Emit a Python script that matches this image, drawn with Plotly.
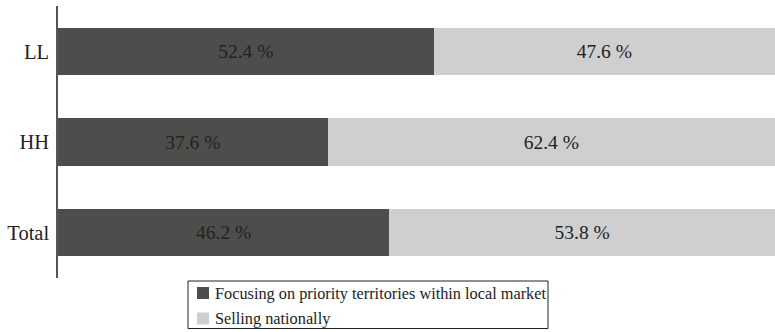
import plotly.graph_objects as go

# Share of respondents by group (percent)
categories = ["Total", "HH", "LL"]
focusing_local = [46.2, 37.6, 52.4]
selling_national = [53.8, 62.4, 47.6]

series_names = [
    "Focusing on priority territories within local market",
    "Selling nationally",
]

FONT = "Liberation Serif, Times New Roman, serif"
DARK = "#4d4d4b"
LIGHT = "#cfcfcf"
TEXT = "#222222"

W, H = 775, 332
ML, MR, MT, MB = 58, 0, 6, 54
PW, PH = W - ML - MR, H - MT - MB


def labels(vals):
    return [f"{v:.1f} %" for v in vals]


def px_x(x):
    return (x - ML) / PW


def px_y(y):
    return (H - MB - y) / PH


fig = go.Figure()
for vals, name, color in [(focusing_local, series_names[0], DARK),
                          (selling_national, series_names[1], LIGHT)]:
    fig.add_trace(go.Bar(
        y=categories, x=vals, orientation="h", name=name,
        marker=dict(color=color, line=dict(width=0)),
        text=labels(vals), textposition="inside",
        insidetextanchor="middle",
        textfont=dict(color=TEXT, size=19.5, family=FONT),
        showlegend=False,
    ))

# Boxed legend below the bars
shapes = [dict(type="rect", xref="paper", yref="paper",
               x0=px_x(188), x1=px_x(548), y0=px_y(281), y1=px_y(328.5),
               line=dict(color="#222222", width=1), fillcolor="white")]
annotations = []
for i, (name, color) in enumerate(zip(series_names, [DARK, LIGHT])):
    cy = 293 + 25.5 * i
    shapes.append(dict(type="rect", xref="paper", yref="paper",
                       x0=px_x(197), x1=px_x(209),
                       y0=px_y(cy - 6), y1=px_y(cy + 6),
                       line=dict(width=0), fillcolor=color))
    annotations.append(dict(xref="paper", yref="paper", x=px_x(213), y=px_y(cy),
                            xanchor="left", yanchor="middle", showarrow=False,
                            text=name, font=dict(size=16.3, family=FONT, color=TEXT)))

fig.update_layout(
    width=W, height=H,
    barmode="stack", bargap=0.48,
    margin=dict(l=ML, r=MR, t=MT, b=MB, autoexpand=False),
    plot_bgcolor="white", paper_bgcolor="white",
    font=dict(family=FONT, size=19, color=TEXT),
    uniformtext=dict(mode="show", minsize=19),
    xaxis=dict(range=[0, 100], visible=False, showgrid=False, zeroline=False),
    yaxis=dict(
        showline=True, linecolor="#555555", linewidth=1.5,
        showgrid=False, zeroline=False, ticks="", ticklabelstandoff=3,
        tickfont=dict(size=20.5, family=FONT, color=TEXT),
        range=[-0.5, 2.5],
    ),
    showlegend=False,
    shapes=shapes,
    annotations=annotations,
)

fig.write_html("out.html")
